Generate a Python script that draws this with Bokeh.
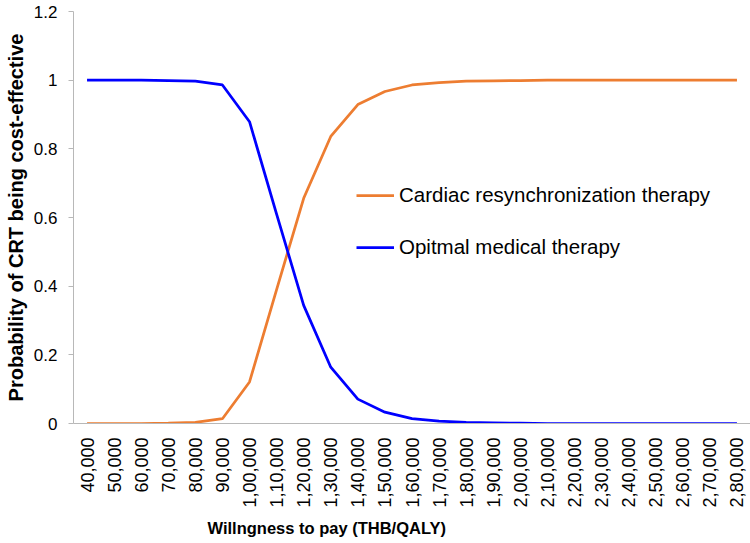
import math
from bokeh.plotting import figure
from bokeh.models import FactorRange, Range1d, FixedTicker, Legend, LegendItem, Title
from bokeh.embed import file_html
from bokeh.resources import INLINE

wtp_labels = ["40,000", "50,000", "60,000", "70,000", "80,000", "90,000",
              "1,00,000", "1,10,000", "1,20,000", "1,30,000", "1,40,000", "1,50,000",
              "1,60,000", "1,70,000", "1,80,000", "1,90,000", "2,00,000", "2,10,000",
              "2,20,000", "2,30,000", "2,40,000", "2,50,000", "2,60,000", "2,70,000",
              "2,80,000"]
crt = [0.0, 0.0, 0.0, 0.001, 0.003, 0.014, 0.121, 0.39, 0.656, 0.836, 0.929, 0.967,
       0.986, 0.993, 0.997, 0.998, 0.999, 1.0, 1.0, 1.0, 1.0, 1.0, 1.0, 1.0, 1.0]
omt = [1.0, 1.0, 1.0, 0.999, 0.997, 0.986, 0.879, 0.61, 0.344, 0.164, 0.071, 0.033,
       0.014, 0.007, 0.003, 0.002, 0.001, 0.0, 0.0, 0.0, 0.0, 0.0, 0.0, 0.0, 0.0]
y_ticks = [0, 0.2, 0.4, 0.6, 0.8, 1, 1.2]
y_tick_labels = ["0", "0.2", "0.4", "0.6", "0.8", "1", "1.2"]
series_names = ["Cardiac resynchronization therapy", "Opitmal medical therapy"]
x_title = "Willngness to pay (THB/QALY)"
y_title = "Probability of CRT being cost-effective"

FONT = "Liberation Sans"

p = figure(width=750, height=543, output_backend="svg", toolbar_location=None,
           x_range=FactorRange(*wtp_labels, range_padding=0),
           y_range=Range1d(0, 1.2),
           min_border_left=73, min_border_right=0, min_border_top=11, min_border_bottom=119)
p.outline_line_color = None
p.xgrid.grid_line_color = None
p.ygrid.grid_line_color = None
p.background_fill_color = "white"
p.border_fill_color = "white"

r1 = p.line(wtp_labels, crt, line_color="#ED7D31", line_width=2.75)
r2 = p.line(wtp_labels, omt, line_color="#0000FF", line_width=2.75)

# y axis
p.yaxis.ticker = FixedTicker(ticks=y_ticks)
p.yaxis.major_label_overrides = {t: l for t, l in zip(y_ticks, y_tick_labels)}
p.yaxis.minor_tick_line_color = None
p.yaxis.major_tick_in = 0
p.yaxis.major_tick_out = 5
p.yaxis.axis_line_color = "#b8b8b8"
p.yaxis.major_tick_line_color = "#b8b8b8"
p.yaxis.major_label_text_font = FONT
p.yaxis.major_label_text_font_size = "17px"
p.yaxis.major_label_text_color = "black"
p.yaxis.major_label_standoff = 11
p.yaxis.axis_label = y_title
p.yaxis.axis_label_text_font = FONT
p.yaxis.axis_label_text_font_style = "bold"
p.yaxis.axis_label_text_font_size = "20px"
p.yaxis.axis_label_text_color = "black"
p.yaxis.axis_label_standoff = 4

# x axis
p.xaxis.axis_line_color = "#b8b8b8"
p.xaxis.major_tick_line_color = None
p.xaxis.major_label_orientation = math.pi / 2
p.xaxis.major_label_text_font = FONT
p.xaxis.major_label_text_font_size = "18px"
p.xaxis.major_label_text_color = "black"
p.xaxis.major_label_standoff = 8

p.add_layout(Title(text=x_title, align="left", offset=134, standoff=13,
                   text_font=FONT, text_font_style="bold", text_font_size="16.5px",
                   text_color="black"), "below")

legend = Legend(items=[LegendItem(label=series_names[0], renderers=[r1]),
                       LegendItem(label=series_names[1], renderers=[r2])],
                location=(283, 164), orientation="vertical",
                border_line_color=None, background_fill_alpha=0,
                padding=0, margin=0, spacing=28,
                glyph_width=38, glyph_height=22, label_height=22,
                label_standoff=5,
                label_text_font=FONT, label_text_font_size="20.5px",
                label_text_color="black")
p.add_layout(legend, "center")

open("out.html", "w").write(file_html(p, INLINE))
